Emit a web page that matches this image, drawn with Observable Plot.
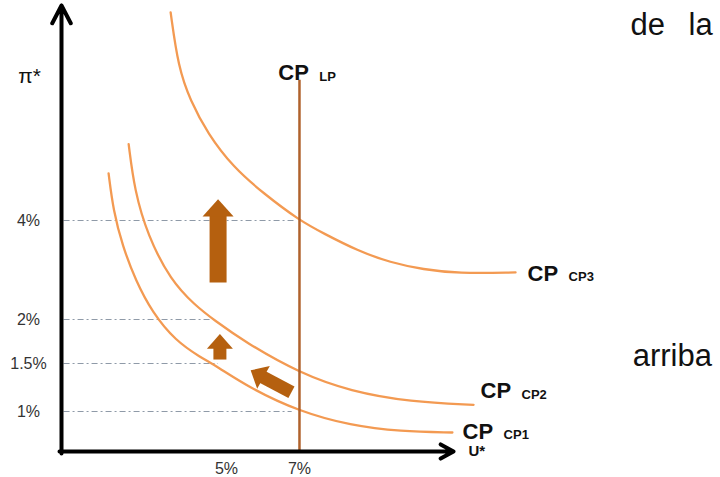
<!DOCTYPE html>
<html>
<head>
<meta charset="utf-8">
<script src="https://cdn.jsdelivr.net/npm/d3@7"></script>
<script src="https://cdn.jsdelivr.net/npm/@observablehq/plot@0.6"></script>
<style>
  html, body { margin: 0; padding: 0; background: #fff; }
</style>
</head>
<body>
<div id="chart"></div>
<script>
// ---------- data ----------
// unemployment U* (%) on x, inflation π* (%) on y
const xTicks = [5, 7];
const yTicks = [1, 1.5, 2, 4];
const gridEnds = [6.8, 4.78, 4.62, 6.85];     // where each dash-dot guide stops (U*)
const naturalRate = 7;                         // long-run Phillips curve (CP LP)
const lpTop = 6.83;

const cp1Pts = [[1.77,4.95],[1.90,4.20],[2.15,3.49],[2.51,2.79],[2.97,2.14],[3.60,1.76],
                [4.29,1.57],[4.70,1.48],[5.66,1.24],[7.0,1.0],[8.40,0.65],[9.77,0.50],[11.19,0.475]];
const cp2Pts = [[2.32,5.54],[2.48,4.61],[2.84,3.70],[3.47,2.79],[4.15,2.28],[4.64,2.0],
                [5.52,1.74],[7.0,1.40],[8.40,1.21],[10.04,1.10],[11.77,1.07]];
const cp3Pts = [[3.47,8.20],[3.68,7.09],[4.01,6.42],[4.48,5.76],[5.19,5.07],[6.01,4.55],
                [7.0,4.0],[7.66,3.74],[8.59,3.39],[9.49,3.15],[10.40,3.01],[11.33,2.93],[12.92,2.95]];

const curveNames = ["LP", "CP1", "CP2", "CP3"];
const labelU  = [6.42, 11.47, 11.96, 13.25];
const labelPi = [6.97, 0.50, 1.21, 2.93];

// shift arrows: tail (u1, pi1) -> base of head (u2, pi2)
const arrowTailU  = [4.77, 4.82, 6.78];
const arrowTailPi = [2.75, 1.545, 1.20];
const arrowHeadU  = [4.77, 4.82, 5.99];
const arrowHeadPi = [4.10, 1.68, 1.36];

const strayWords = ["de", "la", "arriba"];
const strayU  = [16.07, 17.66, 16.13];
const strayPi = [7.94, 7.94, 1.59];

// ---------- build ----------
const toObj = pts => pts.map(([u, pi]) => ({u, pi}));
const cp1 = toObj(cp1Pts), cp2 = toObj(cp2Pts), cp3 = toObj(cp3Pts);
const labels = curveNames.map((sub, i) => ({sub, u: labelU[i], pi: labelPi[i]}));
const arrows = arrowTailU.map((_, i) => ({u1: arrowTailU[i], pi1: arrowTailPi[i], u2: arrowHeadU[i], pi2: arrowHeadPi[i]}));
const stray = strayWords.map((t, i) => ({t, u: strayU[i], pi: strayPi[i]}));
const grid = yTicks.map((v, i) => ({v, end: gridEnds[i]}));

// the schematic π* axis is not proportional: warp it piecewise
const piWarp = d3.scaleLinear()
  .domain([0, 1, 1.5, 2, 4, 8.34])
  .range([0, 40, 88, 132, 231, 446]);

const curveColor = "#f39a52";
const lpColor = "#b0622c";
const arrowColor = "#b5600f";
const font = "'Liberation Sans', Arial, Helvetica, sans-serif";

const headSymbol = {
  draw(ctx, size) {
    const r = Math.sqrt(size / Math.PI);
    ctx.moveTo(-r, 1);
    ctx.lineTo(r, 1);
    ctx.lineTo(0, -1.05 * r);
    ctx.closePath();
  }
};
const arrowStyle = [
  {w: 17, r: 15.5, rot: 0},
  {w: 13, r: 13, rot: 0},
  {w: 13, r: 13, rot: -61}
];

const arrowMarks = arrows.flatMap((a, i) => [
  Plot.link([a], {x1: "u1", y1: "pi1", x2: "u2", y2: "pi2", stroke: arrowColor,
    strokeWidth: arrowStyle[i].w, strokeLinecap: "butt"}),
  Plot.dot([a], {x: "u2", y: "pi2", r: arrowStyle[i].r, symbol: headSymbol,
    fill: arrowColor, stroke: "none", rotate: arrowStyle[i].rot})
]);

const curveOpts = {x: "u", y: "pi", stroke: curveColor, strokeWidth: 2.3, curve: "basis"};

const chart = Plot.plot({
  width: 720,
  height: 477,
  marginLeft: 61,
  marginRight: 267,
  marginTop: 5,
  marginBottom: 26,
  style: {fontFamily: font, background: "#fff", overflow: "visible"},
  x: {domain: [0.48, 11.22], axis: null},
  y: {transform: piWarp, domain: [0, 446], axis: null},
  marks: [
    // dash-dot guides
    Plot.ruleY(grid, {y: "v", x1: 0.55, x2: "end", stroke: "#8f9aa8", strokeWidth: 1.1,
      strokeDasharray: "6,3,2,3"}),
    // short-run Phillips curves
    Plot.line(cp1, curveOpts),
    Plot.line(cp2, curveOpts),
    Plot.line(cp3, curveOpts),
    // long-run Phillips curve
    Plot.ruleX([naturalRate], {x: d => d, y1: 0, y2: lpTop, stroke: lpColor, strokeWidth: 2.5}),
    // shift arrows
    ...arrowMarks,
    // axes
    Plot.arrow([0], {x1: 0.48, y1: -0.05, x2: 0.48, y2: 8.34, stroke: "#000", strokeWidth: 4,
      headLength: 7.5, headAngle: 55, strokeLinejoin: "round"}),
    Plot.arrow([0], {x1: 0.425, y1: 0, x2: 11.22, y2: 0, stroke: "#000", strokeWidth: 4,
      headLength: 5.5, headAngle: 58, strokeLinejoin: "round"}),
    // tick labels
    Plot.text(yTicks, {x: 0.48, y: d => d, text: d => `${d}%`, dx: -33, textAnchor: "middle",
      fontSize: 16, fill: "#333"}),
    Plot.text(xTicks, {x: d => d, y: 0, text: d => `${d}%`, dy: 17, textAnchor: "middle",
      fontSize: 16, fill: "#333"}),
    // axis names
    Plot.text(["π*"], {x: 0.48, y: 6.91, dx: -32, text: d => d, fontSize: 21, fill: "#111"}),
    Plot.text(["U*"], {x: 11.63, y: 0, text: d => d, textAnchor: "start", fontSize: 15,
      fontWeight: "bold", fill: "#111"}),
    // curve labels
    Plot.text(labels, {x: "u", y: "pi", text: () => "CP", textAnchor: "start", fontSize: 22,
      fontWeight: "bold", fill: "#111"}),
    Plot.text(labels, {x: "u", y: "pi", text: "sub", textAnchor: "start", dx: 41, dy: 3,
      fontSize: 13, fontWeight: "bold", fill: "#111"}),
    // stray slide words
    Plot.text(stray, {x: "u", y: "pi", text: "t", textAnchor: "start", fontSize: 31, fill: "#111"})
  ]
});

document.getElementById("chart").append(chart);
</script>
</body>
</html>
